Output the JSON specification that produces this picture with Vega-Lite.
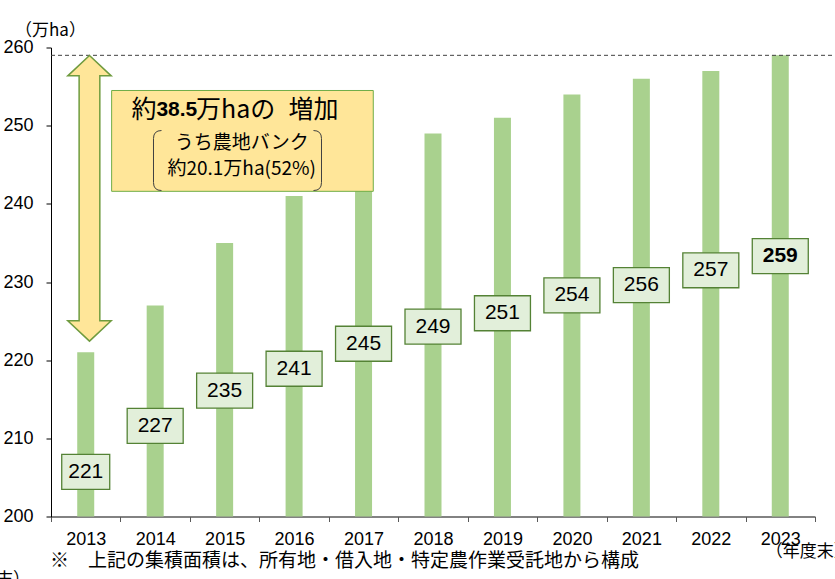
{
  "$schema": "https://vega.github.io/schema/vega-lite/v6.json",
  "width": 764,
  "height": 469,
  "autosize": {"type": "none"},
  "padding": {"left": 51, "top": 47.5, "right": 20, "bottom": 62.5},
  "background": "white",
  "config": {"view": {"stroke": null}, "font": "Liberation Sans"},
  "datasets": {
    "main": [
      {"year": "2013", "value": 221, "label_y": 205.7},
      {"year": "2014", "value": 227, "label_y": 211.6},
      {"year": "2015", "value": 235, "label_y": 216.1},
      {"year": "2016", "value": 241, "label_y": 218.9},
      {"year": "2017", "value": 245, "label_y": 222.1},
      {"year": "2018", "value": 249, "label_y": 224.3},
      {"year": "2019", "value": 251, "label_y": 226.0},
      {"year": "2020", "value": 254, "label_y": 228.3},
      {"year": "2021", "value": 256, "label_y": 229.6},
      {"year": "2022", "value": 257, "label_y": 231.5},
      {"year": "2023", "value": 259, "label_y": 233.3}
    ]
  },
  "layer": [
    {
      "layer": [
        {
          "data": {"name": "main"},
          "mark": {"type": "bar", "color": "#a9d18e", "width": 17},
          "encoding": {
            "x": {
              "field": "year",
              "type": "ordinal",
              "scale": {"paddingInner": 0, "paddingOuter": 0},
              "axis": {
                "title": "※　上記の集積面積は、所有地・借入地・特定農作業受託地から構成",
                "titleFont": "Noto Sans CJK JP",
                "titleFontSize": 19,
                "titleFontWeight": "normal",
                "titleColor": "#000000",
                "titleAlign": "left",
                "titleAnchor": "start",
                "titleBaseline": "middle",
                "titleX": -1.5,
                "titleY": 44,
                "labelAngle": 0,
                "labelFontSize": 18,
                "labelColor": "#000000",
                "labelPadding": 9,
                "tickBand": "extent",
                "tickSize": 5,
                "tickColor": "#595959",
                "domainColor": "#595959",
                "domainWidth": 1.5
              }
            },
            "y": {
              "field": "value",
              "type": "quantitative",
              "scale": {"domain": [200, 260], "zero": false, "nice": false},
              "axis": {
                "title": "（万ha）",
                "titleFont": "Noto Sans CJK JP",
                "titleFontSize": 17,
                "titleFontWeight": "normal",
                "titleColor": "#000000",
                "titleAngle": 0,
                "titleAlign": "left",
                "titleBaseline": "middle",
                "titleX": -36.5,
                "titleY": -17.5,
                "values": [200, 210, 220, 230, 240, 250, 260],
                "grid": false,
                "tickSize": 5,
                "tickColor": "#000000",
                "domainColor": "#000000",
                "labelFontSize": 18,
                "labelColor": "#000000",
                "labelPadding": 13
              }
            },
            "y2": {"datum": 200}
          }
        },
        {
          "data": {"name": "main"},
          "mark": {"type": "point", "size": 4, "filled": true, "fill": "#e2efda", "stroke": "#548235", "strokeWidth": 1.3, "opacity": 1},
          "encoding": {
            "x": {"field": "year", "type": "ordinal"},
            "y": {"field": "label_y", "type": "quantitative"},
            "shape": {
              "condition": {"test": "datum.year === '2013'", "value": "M-24,-17.5L24,-17.5L24,17.5L-24,17.5Z"},
              "value": "M-28,-17.5L28,-17.5L28,17.5L-28,17.5Z"
            }
          }
        },
        {
          "data": {"name": "main"},
          "transform": [{"filter": "datum.year !== '2023'"}],
          "mark": {"type": "text", "font": "Liberation Sans", "fontSize": 21, "color": "#000000", "baseline": "middle", "align": "center"},
          "encoding": {
            "x": {"field": "year", "type": "ordinal"},
            "y": {"field": "label_y", "type": "quantitative"},
            "text": {"field": "value", "type": "quantitative"}
          }
        },
        {
          "data": {"name": "main"},
          "transform": [{"filter": "datum.year === '2023'"}],
          "mark": {"type": "text", "font": "Liberation Sans", "fontSize": 21, "fontWeight": "bold", "color": "#000000", "baseline": "middle", "align": "center"},
          "encoding": {
            "x": {"field": "year", "type": "ordinal"},
            "y": {"field": "label_y", "type": "quantitative"},
            "text": {"field": "value", "type": "quantitative"}
          }
        }
      ]
    },
    {
      "layer": [
        {
          "data": {"values": [{"x1": 0, "x2": 11.29, "y": 259}]},
          "mark": {"type": "rule", "color": "#404040", "strokeWidth": 1, "strokeDash": [4, 3]},
          "encoding": {
            "x": {"field": "x1", "type": "quantitative", "scale": {"domain": [0, 11], "nice": false, "zero": false}, "axis": null},
            "x2": {"field": "x2"},
            "y": {"field": "y", "type": "quantitative"}
          }
        },
        {
          "data": {"values": [{"ax": 0.554, "y": 240.7}]},
          "mark": {"type": "point", "size": 4, "filled": true, "fill": "#ffe699", "stroke": "#6f9b3f", "strokeWidth": 1.5, "opacity": 1,
            "shape": "M0,-142.8L21.7,-122.5L10.35,-122.5L10.35,122.5L21.7,122.5L0,142.8L-21.7,122.5L-10.35,122.5L-10.35,-122.5L-21.7,-122.5Z"},
          "encoding": {
            "x": {"field": "ax", "type": "quantitative", "axis": null},
            "y": {"field": "y", "type": "quantitative"}
          }
        },
        {
          "data": {"values": [{"x1": 0.873, "x2": 4.64, "y1": 254.5, "y2": 241.6}]},
          "mark": {"type": "rect", "fill": "#ffe699", "stroke": "#70ad47", "strokeWidth": 1},
          "encoding": {
            "x": {"field": "x1", "type": "quantitative", "axis": null},
            "x2": {"field": "x2"},
            "y": {"field": "y1", "type": "quantitative"},
            "y2": {"field": "y2"}
          }
        },
        {
          "data": {"values": [{"ax": 2.685, "y": 245.54}]},
          "mark": {"type": "point", "size": 4, "filled": false, "stroke": "#404040", "strokeWidth": 1, "opacity": 1,
            "shape": "M-76,-30Q-84,-30,-84,-22L-84,22Q-84,30,-76,30M76,-30Q84,-30,84,-22L84,22Q84,30,76,30"},
          "encoding": {
            "x": {"field": "ax", "type": "quantitative", "axis": null},
            "y": {"field": "y", "type": "quantitative"}
          }
        },
        {
          "data": {"values": [
            {"ax": 1.159, "y": 251.96, "t": "約"},
            {"ax": 2.088, "y": 251.96, "t": "万haの"},
            {"ax": 3.42, "y": 251.96, "t": "増加"}
          ]},
          "mark": {"type": "text", "font": "Noto Sans CJK JP", "fontSize": 25, "align": "left", "baseline": "middle", "color": "#000000"},
          "encoding": {
            "x": {"field": "ax", "type": "quantitative", "axis": null},
            "y": {"field": "y", "type": "quantitative"},
            "text": {"field": "t"}
          }
        },
        {
          "data": {"values": [{"ax": 1.812, "y": 251.96, "t": "38.5"}]},
          "mark": {"type": "text", "font": "Liberation Sans", "fontSize": 21, "fontWeight": "bold", "align": "center", "baseline": "middle", "color": "#000000"},
          "encoding": {
            "x": {"field": "ax", "type": "quantitative", "axis": null},
            "y": {"field": "y", "type": "quantitative"},
            "text": {"field": "t"}
          }
        },
        {
          "data": {"values": [
            {"ax": 2.746, "y": 247.8, "t": "うち農地バンク"},
            {"ax": 2.746, "y": 244.52, "t": "約20.1万ha(52%)"}
          ]},
          "mark": {"type": "text", "font": "Noto Sans CJK JP", "fontSize": 19, "align": "center", "baseline": "middle", "color": "#000000"},
          "encoding": {
            "x": {"field": "ax", "type": "quantitative", "axis": null},
            "y": {"field": "y", "type": "quantitative"},
            "text": {"field": "t"}
          }
        },
        {
          "data": {"values": [
            {"ax": 10.29, "y": 195.52, "t": "（年度末）"}
          ]},
          "mark": {"type": "text", "font": "Noto Sans CJK JP", "fontSize": 17, "align": "left", "baseline": "middle", "color": "#000000"},
          "encoding": {
            "x": {"field": "ax", "type": "quantitative", "axis": null},
            "y": {"field": "y", "type": "quantitative"},
            "text": {"field": "t"}
          }
        },
        {
          "data": {"values": [
            {"ax": -0.302, "y": 191.94, "t": "（年度末）"}
          ]},
          "mark": {"type": "text", "font": "Noto Sans CJK JP", "fontSize": 17, "align": "right", "baseline": "middle", "color": "#000000"},
          "encoding": {
            "x": {"field": "ax", "type": "quantitative", "axis": null},
            "y": {"field": "y", "type": "quantitative"},
            "text": {"field": "t"}
          }
        }
      ]
    }
  ],
  "resolve": {"scale": {"x": "independent"}}
}
